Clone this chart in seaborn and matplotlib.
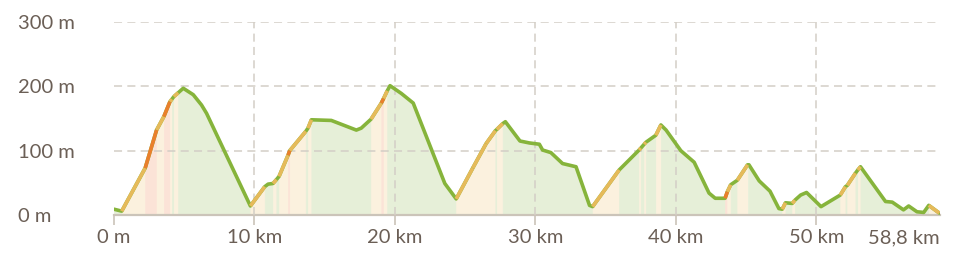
import matplotlib
matplotlib.use("Agg")
import matplotlib.pyplot as plt
import pandas as pd
import seaborn as sns

# ---- data ----
dist_km = [0.00, 0.55, 2.22, 3.03, 3.55, 3.98, 4.12, 4.26, 4.57, 4.93,
           5.64, 6.23, 6.59, 9.71, 10.73, 10.97, 11.32, 11.56, 11.75, 12.39,
           12.51, 13.65, 13.81, 14.05, 15.47, 17.25, 17.60, 18.30, 19.03, 19.19,
           19.45, 19.65, 20.45, 21.30, 23.55, 24.36, 25.54, 26.49, 27.15, 27.25,
           27.67, 27.86, 28.90, 29.57, 30.28, 30.51, 31.10, 31.93, 32.89, 33.85,
           34.07, 35.96, 37.38, 37.50, 37.74, 37.86, 38.57, 38.93, 39.30, 40.35,
           41.30, 42.36, 42.80, 43.50, 43.66, 43.90, 44.37, 45.10, 45.20, 45.93,
           46.70, 47.33, 47.57, 47.80, 48.28, 48.47, 48.88, 49.30, 50.33, 51.70,
           52.07, 52.20, 52.78, 52.95, 53.14, 54.92, 55.40, 56.20, 56.57, 57.16,
           57.64, 58.00, 58.75]
elev_m = [9, 6, 73, 132, 153, 176, 180, 184, 190, 197,
          187, 171, 158, 14, 44, 48, 49, 55, 60, 93,
          100, 130, 135, 148, 147, 132, 135, 149, 174, 181,
          193, 201, 189, 174, 49, 25, 73, 111, 131, 133,
          142, 145, 115, 112, 110, 101, 97, 80, 75, 15,
          13, 70, 101, 104, 110, 113, 124, 140, 132, 100,
          82, 34, 26, 26, 36, 47, 54, 78, 78, 53,
          37, 10, 9, 19, 18, 23, 31, 35, 13, 31,
          44, 46, 65, 70, 75, 21, 20, 8, 14, 5,
          4, 15, 3]
# steepness class of each segment between consecutive points
grade = ["g", "y", "o", "y", "o", "y", "g", "y", "g", "g",
         "g", "g", "g", "y", "g", "g", "y", "g", "y", "o",
         "y", "g", "y", "g", "g", "g", "g", "y", "o", "y",
         "g", "g", "g", "g", "g", "y", "y", "y", "g", "y",
         "g", "g", "g", "g", "g", "g", "g", "g", "g", "g",
         "y", "g", "y", "g", "y", "g", "y", "g", "g", "g",
         "g", "g", "g", "o", "y", "g", "y", "g", "g", "g",
         "g", "g", "y", "g", "y", "g", "g", "g", "g", "y",
         "g", "y", "g", "y", "g", "g", "g", "g", "g", "g",
         "g", "y"]
x_ticks = [0, 10, 20, 30, 40, 50, 58.8]
x_labels = ["0 m", "10 km", "20 km", "30 km", "40 km", "50 km", "58,8 km"]
y_ticks = [0, 100, 200, 300]
y_labels = ["0 m", "100 m", "200 m", "300 m"]

line_col = {"g": "#86b43b", "y": "#e6ba5a", "o": "#ea7f2c"}
fill_col = {"g": "#e6efd8", "y": "#fbf1de", "o": "#fbe3d7"}
text_col = "#6b5f56"
grid_col = "#d3cec6"

sns.set_theme(style="white")
plt.rcParams["font.family"] = ["Lato", "DejaVu Sans"]
plt.rcParams["lines.scale_dashes"] = False

rows = []
for i, g in enumerate(grade):
    rows.append(dict(seg=i, km=dist_km[i], m=elev_m[i], grade=g))
    rows.append(dict(seg=i, km=dist_km[i + 1], m=elev_m[i + 1], grade=g))
seg_df = pd.DataFrame(rows)
full_df = pd.DataFrame({"km": dist_km, "m": elev_m})

fig = plt.figure(figsize=(9.6, 2.68), dpi=100)
ax = fig.add_axes([114 / 960, 53 / 268, (940 - 114) / 960, (215 - 22) / 268])

for i, g in enumerate(grade):
    ax.fill_between(dist_km[i:i + 2], elev_m[i:i + 2], 0, color=fill_col[g],
                    lw=0.5, ec=fill_col[g], zorder=1)

sns.lineplot(data=full_df, x="km", y="m", color=line_col["g"], lw=2.6,
             estimator=None, sort=False, ax=ax, zorder=3,
             solid_joinstyle="round", solid_capstyle="round")
sub = seg_df[seg_df["grade"] != "g"]
sns.lineplot(data=sub, x="km", y="m", hue="grade", units="seg", estimator=None,
             palette=line_col, legend=False, sort=False, ax=ax, lw=2.6, zorder=4,
             solid_capstyle="butt", solid_joinstyle="round")

ax.set_xlim(0, 58.8)
ax.set_ylim(0, 300)
ax.set_xlabel("")
ax.set_ylabel("")
for s in ["top", "right", "left"]:
    ax.spines[s].set_visible(False)
ax.spines["bottom"].set_color("#cbc4b9")
ax.spines["bottom"].set_linewidth(1.6)

ax.set_axisbelow(False)
ax.set_xticks(x_ticks)
ax.set_xticklabels(x_labels)
ax.set_yticks(y_ticks)
ax.set_yticklabels(y_labels)
ax.grid(True, color=grid_col, lw=1.1, ls=(0, (5.8, 3.8)))
ax.tick_params(axis="x", length=7.5, width=1.2, color="#cbc4b9", pad=2.5,
               labelsize=14.5, labelcolor=text_col, bottom=True)
ax.tick_params(axis="y", length=0, pad=69, labelsize=14.5, labelcolor=text_col, left=True)
for lab in ax.get_yticklabels():
    lab.set_ha("left")
ax.yaxis.get_major_ticks()[0].gridline.set_visible(False)
last = ax.xaxis.get_major_ticks()[-1]
last.gridline.set_visible(False)
last.tick1line.set_visible(False)
ax.get_xticklabels()[-1].set_ha("right")
ax.xaxis.get_major_ticks()[0].gridline.set_visible(False)

fig.savefig("out.png", dpi=100)
